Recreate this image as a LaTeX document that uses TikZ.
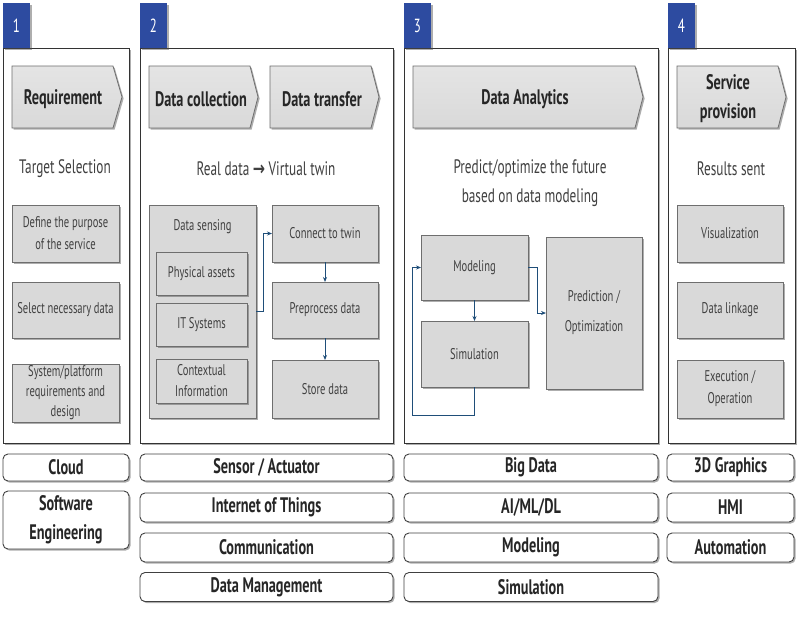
\documentclass[tikz,border=0pt]{standalone}
\usepackage{fontspec}
\setmainfont{PT Sans}[FakeStretch=0.68]
\newfontfamily\symfont{DejaVu Sans}[FakeStretch=0.75]
\usetikzlibrary{shadows,arrows.meta}
\definecolor{gfill}{HTML}{D9D9D9}
\definecolor{gline}{HTML}{6E6E6E}
\definecolor{badgeblue}{HTML}{2D4BA0}
\definecolor{arrowc}{HTML}{1F4E79}
\definecolor{txt}{HTML}{404040}
\definecolor{dtxt}{HTML}{262626}
\tikzset{
  shad/.style={drop shadow={shadow xshift=1.6pt,shadow yshift=-1.6pt,opacity=0.45,fill=black!70}},
  panel/.style={draw=black!80, line width=0.9pt, fill=white, inner sep=0pt, outer sep=0pt, anchor=north west, shad},
  badgebox/.style={fill=badgeblue, inner sep=0pt, outer sep=0pt, anchor=north west, minimum width=27pt, minimum height=45pt, text=white, font=\fontsize{19}{20}\selectfont, text depth=0pt, shad},
  chev/.style={draw=gline, line width=0.8pt, top color=gfill!70, bottom color=gfill, shad},
  chevtext/.style={font=\fontsize{21}{29}\bfseries\selectfont, text=dtxt, align=center, inner sep=0pt},
  subtext/.style={font=\fontsize{19.5}{29}\selectfont, text=txt, align=center, inner sep=0pt},
  gbox/.style={draw=gline, line width=0.8pt, fill=gfill, inner sep=1pt, outer sep=0pt, align=center, text=txt, font=\fontsize{15.5}{22}\selectfont, shad},
  wbox/.style={draw=black!75, line width=0.9pt, fill=white, rounded corners=5pt, inner sep=0pt, outer sep=0pt, align=center, text=dtxt, font=\fontsize{21}{29}\bfseries\selectfont, shad},
  conn/.style={draw=arrowc, line width=0.9pt, -{Stealth[length=5pt,width=4pt]}},
}
\begin{document}
\begin{tikzpicture}[x=1pt,y=-1pt]
\useasboundingbox (0,0) rectangle (800,627);

% panels
\node[panel, minimum width=126pt, minimum height=395pt] (p1) at (3,48) {};
\node[panel, minimum width=253pt, minimum height=395pt] (p2) at (140,48) {};
\node[panel, minimum width=254pt, minimum height=395pt] (p3) at (404,48) {};
\node[panel, minimum width=127pt, minimum height=395pt] (p4) at (668,48) {};

% badges
\node[badgebox] (b1) at (3,3) {1};
\node[badgebox] (b2) at (140,3) {2};
\node[badgebox] (b3) at (404,3) {3};
\node[badgebox] (b4) at (668,3) {4};

% chevrons
\draw[chev] (12,66) -- (113,66) -- (122,97) -- (113,128) -- (12,128) -- cycle;
\draw[chev] (149,66) -- (250,66) -- (258,97) -- (250,128) -- (149,128) -- cycle;
\draw[chev] (270,66) -- (371,66) -- (379,97) -- (371,128) -- (270,128) -- cycle;
\draw[chev] (413,66) -- (635,66) -- (643,97) -- (635,128) -- (413,128) -- cycle;
\draw[chev] (677,66) -- (778,66) -- (786,97) -- (778,128) -- (677,128) -- cycle;
\node[chevtext] (c1) at (63,99) {Requirement};
\node[chevtext] (c2) at (201,99) {Data collection};
\node[chevtext] (c3) at (322,99) {Data transfer};
\node[chevtext] (c4) at (525,99) {Data Analytics};
\node[chevtext] (c5) at (728,99) {Service\\provision};

% subtitles
\node[subtext] (s1) at (65,169) {Target Selection};
\node[subtext] (s2) at (266,169) {Real data {\symfont\bfseries →} Virtual twin};
\node[subtext] (s3) at (530,183) {Predict/optimize the future\\based on data modeling};
\node[subtext] (s4) at (731,169) {Results sent};

% panel 1 boxes
\node[gbox, minimum width=107pt, minimum height=57pt] (r1) at (65.5,233.5) {Define the purpose\\of the service};
\node[gbox, minimum width=107pt, minimum height=56pt] (r2) at (65.5,310) {Select necessary data};
\node[gbox, minimum width=107pt, minimum height=58pt, font=\fontsize{15.5}{20}\selectfont] (r3) at (65.5,393) {System/platform\\requirements and\\design};

% panel 2 boxes
\node[gbox, minimum width=107pt, minimum height=213pt] (sens) at (202.5,311.5) {};
\node[text=txt, font=\fontsize{15.5}{18}\selectfont, inner sep=0pt] (senst) at (202.5,227) {Data sensing};
\node[gbox, minimum width=91pt, minimum height=43pt] (phys) at (201.5,273.5) {Physical assets};
\node[gbox, minimum width=91pt, minimum height=43pt] (its) at (201.5,324.5) {IT Systems};
\node[gbox, minimum width=91pt, minimum height=44pt, font=\fontsize{15.5}{21}\selectfont] (ctx) at (201.5,381) {Contextual\\Information};
\node[gbox, minimum width=106pt, minimum height=57pt] (cnt) at (325,233.5) {Connect to twin};
\node[gbox, minimum width=106pt, minimum height=56pt] (pre) at (325,310) {Preprocess data};
\node[gbox, minimum width=106pt, minimum height=58pt] (sto) at (325,389) {Store data};
\draw[conn] (sens.east) -- ++(7,0) |- (cnt.west);
\draw[conn] (cnt.south) -- (pre.north);
\draw[conn] (pre.south) -- (sto.north);

% panel 3 boxes
\node[gbox, minimum width=107pt, minimum height=65pt] (mod) at (474.5,267.5) {Modeling};
\node[gbox, minimum width=107pt, minimum height=66pt] (sim) at (474.5,354) {Simulation};
\node[gbox, minimum width=96pt, minimum height=152pt, font=\fontsize{15.5}{30}\selectfont] (pred) at (594,313) {Prediction /\\Optimization};
\coordinate (lp) at (412,415);
\draw[conn] (mod.south) -- (sim.north);
\draw[conn] (sim.south) |- (lp) |- (mod.west);
\draw[conn] (mod.east) -- ++(9,0) |- (pred.west);

% panel 4 boxes
\node[gbox, minimum width=106pt, minimum height=57pt] (v1) at (730,233.5) {Visualization};
\node[gbox, minimum width=106pt, minimum height=56pt] (v2) at (730,310) {Data linkage};
\node[gbox, minimum width=106pt, minimum height=58pt] (v3) at (730,389) {Execution /\\Operation};

% bottom technology boxes
\node[wbox, minimum width=126pt, minimum height=27pt] (t1) at (66,467.5) {Cloud};
\node[wbox, minimum width=126pt, minimum height=58pt] (t2) at (66,520) {Software\\Engineering};
\node[wbox, minimum width=253pt, minimum height=27pt] (t3) at (266.5,467.5) {Sensor / Actuator};
\node[wbox, minimum width=253pt, minimum height=29pt] (t4) at (266.5,507.5) {Internet of Things};
\node[wbox, minimum width=253pt, minimum height=29pt] (t5) at (266.5,547.5) {Communication};
\node[wbox, minimum width=253pt, minimum height=29pt] (t6) at (266.5,587) {Data Management};
\node[wbox, minimum width=254pt, minimum height=27pt] (t7) at (531,467.5) {Big Data};
\node[wbox, minimum width=254pt, minimum height=29pt] (t8) at (531,507.5) {AI/ML/DL};
\node[wbox, minimum width=254pt, minimum height=29pt] (t9) at (531,547.5) {Modeling};
\node[wbox, minimum width=254pt, minimum height=29pt] (t10) at (531,587) {Simulation};
\node[wbox, minimum width=127pt, minimum height=27pt] (t11) at (730.5,467.5) {3D Graphics};
\node[wbox, minimum width=127pt, minimum height=29pt] (t12) at (730.5,507.5) {HMI};
\node[wbox, minimum width=127pt, minimum height=29pt] (t13) at (730.5,547.5) {Automation};
\end{tikzpicture}
\end{document}
